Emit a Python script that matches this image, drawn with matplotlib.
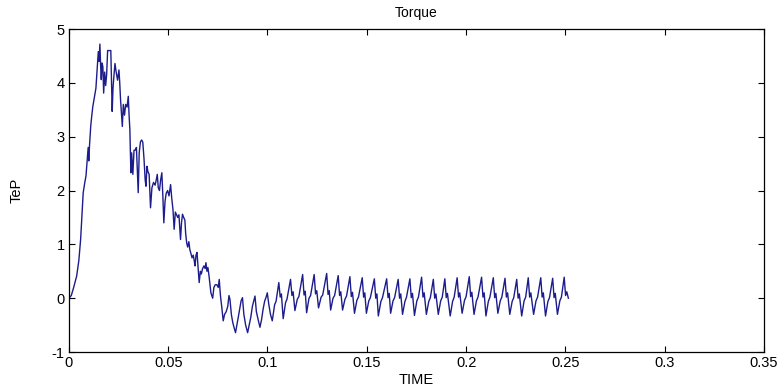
import matplotlib
matplotlib.use("Agg")
import matplotlib.pyplot as plt
import numpy as np

matplotlib.rcParams['font.family'] = ['Liberation Sans', 'DejaVu Sans']
matplotlib.rcParams['axes.unicode_minus'] = False

# start-up transient (time, torque)
t_start = [0.0000, 0.0012, 0.0024, 0.0039, 0.0050, 0.0059, 0.0066, 0.0072, 0.0080, 0.0086,
           0.0092, 0.0097, 0.0100, 0.0104, 0.0110, 0.0114, 0.0120, 0.0128, 0.0136, 0.0142,
           0.0148, 0.0152, 0.0156, 0.0160, 0.0163, 0.0167, 0.0171, 0.0175, 0.0180, 0.0185,
           0.0190, 0.0195, 0.0203, 0.0211, 0.0215, 0.0218, 0.0222, 0.0226, 0.0232, 0.0238,
           0.0245, 0.0252, 0.0256, 0.0260, 0.0265, 0.0269, 0.0274, 0.0280, 0.0286, 0.0293,
           0.0299, 0.0303, 0.0307, 0.0312, 0.0316, 0.0322, 0.0328, 0.0334, 0.0340, 0.0349,
           0.0354, 0.0360, 0.0366, 0.0372, 0.0378, 0.0384, 0.0388, 0.0393, 0.0398, 0.0404,
           0.0411, 0.0418, 0.0426, 0.0434, 0.0440, 0.0445, 0.0450, 0.0456, 0.0462, 0.0468,
           0.0473, 0.0478, 0.0484, 0.0490, 0.0497, 0.0504, 0.0512, 0.0518, 0.0524, 0.0530,
           0.0536, 0.0542, 0.0548, 0.0554, 0.0562, 0.0567, 0.0572, 0.0578, 0.0584, 0.0588,
           0.0593, 0.0598, 0.0604, 0.0609, 0.0613, 0.0620, 0.0626, 0.0631, 0.0635, 0.0640,
           0.0645, 0.0651, 0.0656, 0.0662, 0.0667, 0.0673, 0.0680, 0.0686, 0.0690, 0.0695,
           0.0700, 0.0706, 0.0715, 0.0724, 0.0730, 0.0737, 0.0745, 0.0752, 0.0757, 0.0763,
           0.0769, 0.0777, 0.0784, 0.0792, 0.0800, 0.0806, 0.0811, 0.0818, 0.0825, 0.0832,
           0.0839, 0.0846, 0.0853, 0.0860, 0.0867, 0.0874, 0.0881, 0.0890, 0.0900, 0.0908,
           0.0916, 0.0924, 0.0931, 0.0937, 0.0944, 0.0953, 0.0962, 0.0970, 0.0978, 0.0986,
           0.0993, 0.0999, 0.1006, 0.1015, 0.1024]
te_start = [0.00, 0.05, 0.20, 0.41, 0.70, 1.09, 1.55, 1.96, 2.15, 2.27,
            2.55, 2.80, 2.55, 2.85, 3.20, 3.35, 3.55, 3.72, 3.90, 4.25,
            4.58, 4.40, 4.72, 4.30, 4.06, 4.37, 4.30, 3.81, 4.20, 3.95,
            4.15, 4.60, 4.60, 4.60, 4.00, 3.47, 3.90, 4.10, 4.36, 4.20,
            4.05, 4.24, 4.00, 3.69, 3.40, 3.19, 3.60, 3.40, 3.60, 3.55,
            3.75, 3.40, 3.13, 2.33, 2.70, 2.30, 2.75, 2.75, 2.80, 1.96,
            2.70, 2.90, 2.94, 2.90, 2.60, 2.20, 2.08, 2.45, 2.35, 2.30,
            1.68, 2.05, 2.15, 2.10, 2.20, 2.30, 2.05, 2.00, 2.20, 2.33,
            1.90, 1.40, 1.80, 1.95, 2.00, 1.90, 2.11, 1.85, 1.65, 1.28,
            1.60, 1.55, 1.50, 1.55, 1.09, 1.40, 1.56, 1.50, 1.45, 1.20,
            1.03, 0.95, 1.05, 0.90, 0.85, 0.75, 0.80, 0.70, 0.60, 0.80,
            0.85, 0.55, 0.29, 0.50, 0.45, 0.55, 0.60, 0.55, 0.66, 0.50,
            0.57, 0.40, 0.10, 0.00, 0.20, 0.25, 0.25, 0.20, 0.35, 0.05,
            -0.14, -0.42, -0.30, -0.25, -0.15, 0.05, -0.02, -0.30, -0.45, -0.55,
            -0.64, -0.50, -0.35, -0.20, -0.05, 0.01, -0.30, -0.50, -0.64, -0.50,
            -0.35, -0.15, -0.05, 0.04, -0.25, -0.40, -0.54, -0.40, -0.20, -0.05,
            0.02, 0.10, -0.10, -0.30, -0.42]

# steady-state ripple
t_ripple = [0.1036, 0.1043, 0.1057, 0.1064, 0.1070, 0.1079,
            0.1091, 0.1098, 0.1116, 0.1123, 0.1129, 0.1138,
            0.1150, 0.1158, 0.1177, 0.1184, 0.1190, 0.1197,
            0.1209, 0.1217, 0.1235, 0.1242, 0.1248, 0.1257,
            0.1270, 0.1278, 0.1298, 0.1305, 0.1311, 0.1318,
            0.1330, 0.1338, 0.1356, 0.1363, 0.1369, 0.1378,
            0.1390, 0.1398, 0.1415, 0.1422, 0.1428, 0.1438,
            0.1450, 0.1458, 0.1477, 0.1484, 0.1490, 0.1498,
            0.1510, 0.1518, 0.1538, 0.1545, 0.1551, 0.1558,
            0.1571, 0.1579, 0.1600, 0.1607, 0.1613, 0.1620,
            0.1632, 0.1640, 0.1658, 0.1665, 0.1671, 0.1680,
            0.1692, 0.1700, 0.1717, 0.1724, 0.1730, 0.1740,
            0.1752, 0.1760, 0.1776, 0.1783, 0.1789, 0.1800,
            0.1812, 0.1820, 0.1835, 0.1842, 0.1848, 0.1860,
            0.1872, 0.1880, 0.1893, 0.1900, 0.1906, 0.1920,
            0.1932, 0.1940, 0.1955, 0.1962, 0.1968, 0.1980,
            0.1992, 0.2000, 0.2016, 0.2023, 0.2029, 0.2040,
            0.2052, 0.2060, 0.2078, 0.2085, 0.2091, 0.2100,
            0.2112, 0.2120, 0.2137, 0.2144, 0.2150, 0.2160,
            0.2172, 0.2180, 0.2196, 0.2203, 0.2209, 0.2220,
            0.2232, 0.2240, 0.2255, 0.2262, 0.2268, 0.2280,
            0.2292, 0.2300, 0.2313, 0.2320, 0.2326, 0.2340,
            0.2352, 0.2360, 0.2376, 0.2383, 0.2389, 0.2400,
            0.2412, 0.2420, 0.2436, 0.2443, 0.2449, 0.2460,
            0.2472, 0.2480, 0.2494, 0.2501, 0.2507, 0.2515]
te_ripple = [-0.12, -0.06, 0.29, 0.02, 0.08, -0.38,
             -0.08, -0.02, 0.35, 0.05, 0.12, -0.23,
             -0.02, 0.03, 0.44, 0.06, 0.13, -0.27,
             0.00, 0.05, 0.44, 0.08, 0.14, -0.18,
             0.02, 0.06, 0.46, 0.07, 0.14, -0.22,
             0.00, 0.05, 0.42, 0.05, 0.12, -0.22,
             -0.02, 0.04, 0.40, 0.03, 0.11, -0.28,
             -0.04, 0.02, 0.38, 0.02, 0.10, -0.28,
             -0.05, 0.01, 0.36, 0.00, 0.08, -0.33,
             -0.06, 0.01, 0.36, 0.01, 0.09, -0.28,
             -0.05, 0.01, 0.35, 0.00, 0.08, -0.30,
             -0.06, 0.02, 0.36, 0.01, 0.09, -0.32,
             -0.05, 0.02, 0.39, 0.02, 0.10, -0.30,
             -0.06, 0.01, 0.35, 0.00, 0.08, -0.30,
             -0.05, 0.02, 0.36, 0.01, 0.09, -0.33,
             -0.06, 0.02, 0.38, 0.02, 0.10, -0.28,
             -0.04, 0.03, 0.40, 0.03, 0.11, -0.30,
             -0.05, 0.02, 0.39, 0.02, 0.10, -0.33,
             -0.06, 0.02, 0.38, 0.01, 0.09, -0.28,
             -0.05, 0.02, 0.37, 0.02, 0.10, -0.30,
             -0.06, 0.01, 0.35, 0.00, 0.08, -0.33,
             -0.05, 0.02, 0.38, 0.02, 0.10, -0.30,
             -0.05, 0.02, 0.38, 0.02, 0.10, -0.33,
             -0.06, 0.01, 0.37, 0.01, 0.09, -0.30,
             -0.05, 0.02, 0.39, 0.05, 0.12, 0.00]

xticks = [0, 0.05, 0.1, 0.15, 0.2, 0.25, 0.3, 0.35]
xticklabels = ['0', '0.05', '0.1', '0.15', '0.2', '0.25', '0.3', '0.35']
yticks = [-1, 0, 1, 2, 3, 4, 5]

t = np.array(t_start + t_ripple)
te = np.array(te_start + te_ripple)

fig = plt.figure(figsize=(7.83, 3.89), dpi=100)
ax = fig.add_axes([0.088, 0.095, 0.8877, 0.8304])
ax.plot(t, te, color='#1c1c8c', linewidth=1.0)

ax.set_xlim(0, 0.35)
ax.set_ylim(-1, 5)
ax.set_xticks(xticks)
ax.set_xticklabels(xticklabels)
ax.set_yticks(yticks)
ax.tick_params(direction='in', top=True, right=True, length=4, width=0.8,
               labelsize=10.5, colors='black', pad=3)
for s in ax.spines.values():
    s.set_linewidth(0.9)

ax.set_title('Torque', fontsize=10, pad=9)
ax.set_xlabel('TIME', fontsize=10.5, labelpad=2)
ax.set_ylabel('TeP', fontsize=10.5, labelpad=20)

fig.savefig('out.png', dpi=100, facecolor='white')
